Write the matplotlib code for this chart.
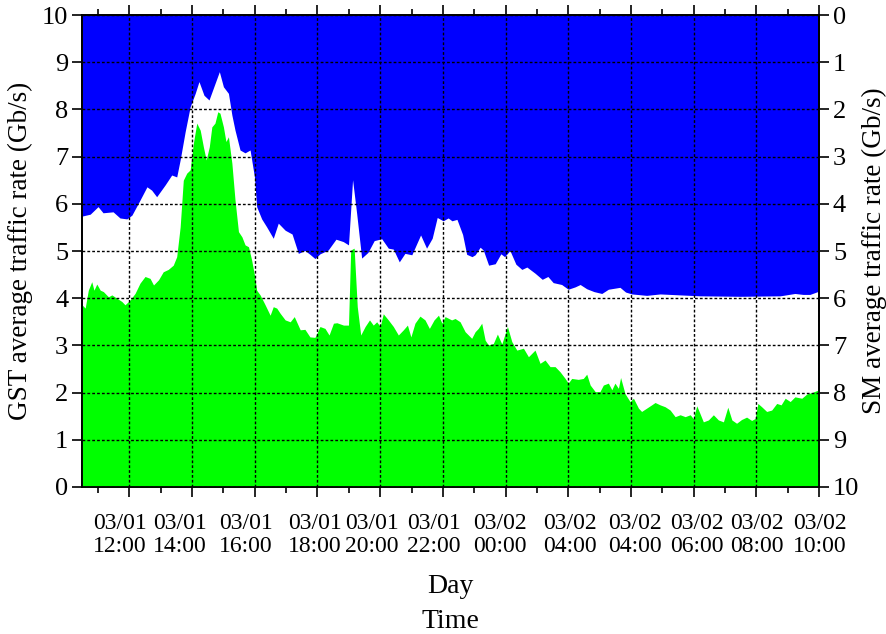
import numpy as np
import matplotlib.pyplot as plt
from matplotlib.ticker import MultipleLocator

plt.rcParams['font.family'] = ['Liberation Serif', 'DejaVu Serif']

# time axis: hours after 03/01 12:00
# SM rate (right axis, drawn down from the top)
t_sm = [-1.51, -1.25, -1.00, -0.84, -0.52, -0.30, -0.08, 0.08, 0.34, 0.56,
        0.71, 0.87, 1.14, 1.35, 1.51, 1.62, 1.78, 1.94, 2.10, 2.22,
        2.38, 2.54, 2.87, 3.00, 3.16, 3.27, 3.37, 3.53, 3.69, 3.85,
        3.99, 4.06, 4.22, 4.38, 4.59, 4.75, 4.97, 5.19, 5.39, 5.60,
        5.76, 5.92, 6.08, 6.34, 6.59, 6.82, 6.99, 7.12, 7.25, 7.41,
        7.61, 7.81, 8.05, 8.26, 8.42, 8.61, 8.79, 9.01, 9.29, 9.48,
        9.66, 9.82, 10.01, 10.17, 10.29, 10.45, 10.63, 10.76, 10.93, 11.03,
        11.19, 11.29, 11.46, 11.67, 11.85, 11.97, 12.14, 12.33, 12.52, 12.68,
        12.94, 13.17, 13.35, 13.52, 13.79, 14.00, 14.22, 14.38, 14.59, 14.82,
        15.07, 15.28, 15.65, 15.83, 16.03, 16.50, 16.93, 17.57, 18.20, 19.48,
        20.76, 21.23, 21.49, 21.71, 22.00]
sm_rate = [4.26, 4.22, 4.06, 4.19, 4.17, 4.30, 4.32, 4.24, 3.92, 3.64,
           3.71, 3.85, 3.60, 3.39, 3.43, 3.07, 2.47, 1.94, 1.66, 1.41,
           1.70, 1.80, 1.20, 1.52, 1.66, 2.12, 2.44, 2.86, 2.92, 2.86,
           3.43, 4.06, 4.32, 4.49, 4.73, 4.41, 4.56, 4.64, 5.05, 4.99,
           5.07, 5.16, 5.06, 4.98, 4.75, 4.80, 4.87, 3.49, 4.20, 5.15,
           5.03, 4.78, 4.74, 4.94, 4.96, 5.23, 5.05, 5.08, 4.66, 4.94,
           4.73, 4.29, 4.36, 4.30, 4.36, 4.33, 4.65, 5.07, 5.12, 5.08,
           4.92, 4.98, 5.30, 5.27, 5.06, 5.12, 4.99, 5.28, 5.39, 5.34,
           5.47, 5.60, 5.54, 5.67, 5.71, 5.81, 5.76, 5.71, 5.80, 5.86,
           5.90, 5.81, 5.77, 5.87, 5.91, 5.94, 5.91, 5.93, 5.95, 5.96,
           5.95, 5.90, 5.92, 5.92, 5.85]

# GST rate (left axis)
t_gst = [-1.51, -1.41, -1.31, -1.20, -1.13, -1.04, -0.93, -0.83, -0.67, -0.56,
         -0.40, -0.24, -0.14, 0.02, 0.18, 0.34, 0.50, 0.66, 0.77, 0.93,
         1.08, 1.24, 1.40, 1.51, 1.62, 1.72, 1.83, 1.94, 2.04, 2.15,
         2.26, 2.36, 2.45, 2.55, 2.63, 2.73, 2.82, 2.89, 3.00, 3.08,
         3.16, 3.27, 3.37, 3.48, 3.59, 3.69, 3.80, 3.90, 3.99, 4.06,
         4.17, 4.33, 4.49, 4.59, 4.70, 4.81, 4.97, 5.13, 5.26, 5.45,
         5.60, 5.76, 5.92, 6.08, 6.24, 6.37, 6.51, 6.62, 6.83, 6.99,
         7.06, 7.17, 7.27, 7.38, 7.52, 7.66, 7.78, 7.89, 8.00, 8.10,
         8.26, 8.42, 8.58, 8.74, 8.87, 8.98, 9.11, 9.27, 9.43, 9.57,
         9.72, 9.86, 9.97, 10.07, 10.28, 10.39, 10.55, 10.71, 10.92, 11.03,
         11.13, 11.24, 11.35, 11.45, 11.61, 11.74, 11.88, 12.06, 12.20, 12.36,
         12.57, 12.73, 12.94, 13.10, 13.26, 13.42, 13.58, 13.74, 13.90, 14.00,
         14.11, 14.32, 14.48, 14.59, 14.70, 14.86, 15.01, 15.12, 15.28, 15.39,
         15.49, 15.60, 15.67, 15.81, 15.97, 16.08, 16.24, 16.34, 16.50, 16.66,
         16.77, 16.93, 17.09, 17.25, 17.41, 17.57, 17.73, 17.89, 17.99, 18.10,
         18.20, 18.31, 18.47, 18.63, 18.79, 18.95, 19.09, 19.22, 19.37, 19.53,
         19.69, 19.85, 19.96, 20.05, 20.17, 20.33, 20.49, 20.65, 20.79, 20.92,
         21.08, 21.23, 21.45, 21.61, 21.77, 22.00]
gst_rate = [3.86, 3.79, 4.17, 4.35, 4.17, 4.30, 4.17, 4.14, 4.03, 4.07,
            4.00, 3.93, 3.86, 3.96, 4.10, 4.32, 4.46, 4.42, 4.28, 4.39,
            4.56, 4.61, 4.70, 4.88, 5.51, 6.50, 6.65, 6.72, 7.28, 7.71,
            7.56, 7.21, 6.93, 7.21, 7.63, 7.71, 7.95, 7.92, 7.63, 7.32,
            7.42, 6.86, 6.08, 5.41, 5.30, 5.13, 5.09, 4.81, 4.49, 4.17,
            4.07, 3.86, 3.64, 3.82, 3.79, 3.68, 3.54, 3.50, 3.61, 3.33,
            3.34, 3.18, 3.17, 3.40, 3.36, 3.22, 3.47, 3.48, 3.43, 3.43,
            5.02, 5.06, 3.82, 3.22, 3.40, 3.54, 3.43, 3.50, 3.40, 3.67,
            3.54, 3.40, 3.22, 3.33, 3.43, 3.18, 3.47, 3.62, 3.54, 3.36,
            3.54, 3.64, 3.47, 3.61, 3.54, 3.57, 3.50, 3.29, 3.15, 3.29,
            3.36, 3.47, 3.11, 3.01, 3.04, 3.24, 3.03, 3.40, 3.08, 2.90,
            2.94, 2.76, 2.90, 2.62, 2.69, 2.55, 2.55, 2.44, 2.30, 2.20,
            2.30, 2.28, 2.30, 2.39, 2.16, 2.02, 2.02, 2.16, 2.20, 2.06,
            2.20, 2.09, 2.32, 1.98, 1.81, 1.88, 1.67, 1.60, 1.67, 1.74,
            1.79, 1.74, 1.70, 1.63, 1.49, 1.53, 1.49, 1.53, 1.45, 1.72,
            1.56, 1.38, 1.42, 1.53, 1.42, 1.38, 1.69, 1.42, 1.35, 1.43,
            1.48, 1.41, 1.45, 1.77, 1.70, 1.60, 1.63, 1.77, 1.74, 1.88,
            1.81, 1.91, 1.88, 1.97, 2.00, 2.06]

tick_hours = [0, 2, 4, 6, 8, 10, 12, 14, 16, 18, 20, 22]
# date labels sit a little off the grid lines
label_hours = [-0.30, 1.62, 3.72, 5.91, 7.74, 9.72, 11.83, 14.06, 16.13, 18.11, 20.03, 22.03]
tick_labels = ['03/01\n12:00', '03/01\n14:00', '03/01\n16:00', '03/01\n18:00',
               '03/01\n20:00', '03/01\n22:00', '03/02\n00:00', '03/02\n04:00',
               '03/02\n04:00', '03/02\n06:00', '03/02\n08:00', '03/02\n10:00']

fig = plt.figure(figsize=(8.86, 6.34), dpi=100)
ax = fig.add_axes([0.0926, 0.2319, 0.8318, 0.7444])
ax2 = ax.twinx()

# SM traffic hangs from the top of the inverted right axis
ax2.fill_between(t_sm, 0, sm_rate, color='#0000ff', lw=0)
ax2.set_ylim(10, 0)
ax2.set_yticks(range(11))

# GST on the left axis, drawn over the SM axes so the grid sits on top
ax.set_zorder(ax2.get_zorder() + 1)
ax.patch.set_visible(False)
ax.fill_between(t_gst, 0, gst_rate, color='#00ff00', lw=0)
ax.set_ylim(0, 10)
ax.set_yticks(range(11))
ax.set_xlim(-1.51, 22)
ax.set_xticks(tick_hours, [])
ax.xaxis.set_minor_locator(MultipleLocator(1))

for h, lab in zip(label_hours, tick_labels):
    ax.text(h, -0.056, lab, transform=ax.get_xaxis_transform(), fontsize=17,
            ha='center', va='top', linespacing=1.1)

ax.grid(True, which='major', color='black', linestyle=(0, (2, 1.5)), linewidth=1)

ax.tick_params(axis='y', direction='out', length=7, width=1.2, labelsize=19, pad=3)
ax.tick_params(axis='x', which='major', direction='out', length=7, width=1.2, top=True)
ax.tick_params(axis='x', which='minor', direction='out', length=4, width=1.2, top=True)
ax2.tick_params(axis='y', direction='out', length=7, width=1.2, labelsize=19, pad=3)

for a in (ax, ax2):
    for s in a.spines.values():
        s.set_linewidth(1.3)

ax.set_ylabel('GST average traffic rate (Gb/s)', fontsize=19.5, labelpad=6)
ax2.set_ylabel('SM average traffic rate (Gb/s)', fontsize=19.5, labelpad=2)
ax.set_xlabel('Day', fontsize=20, labelpad=52)
fig.text(0.5085, 0.0, 'Time', fontsize=20, ha='center', va='bottom')

fig.savefig('out.png', dpi=100)
